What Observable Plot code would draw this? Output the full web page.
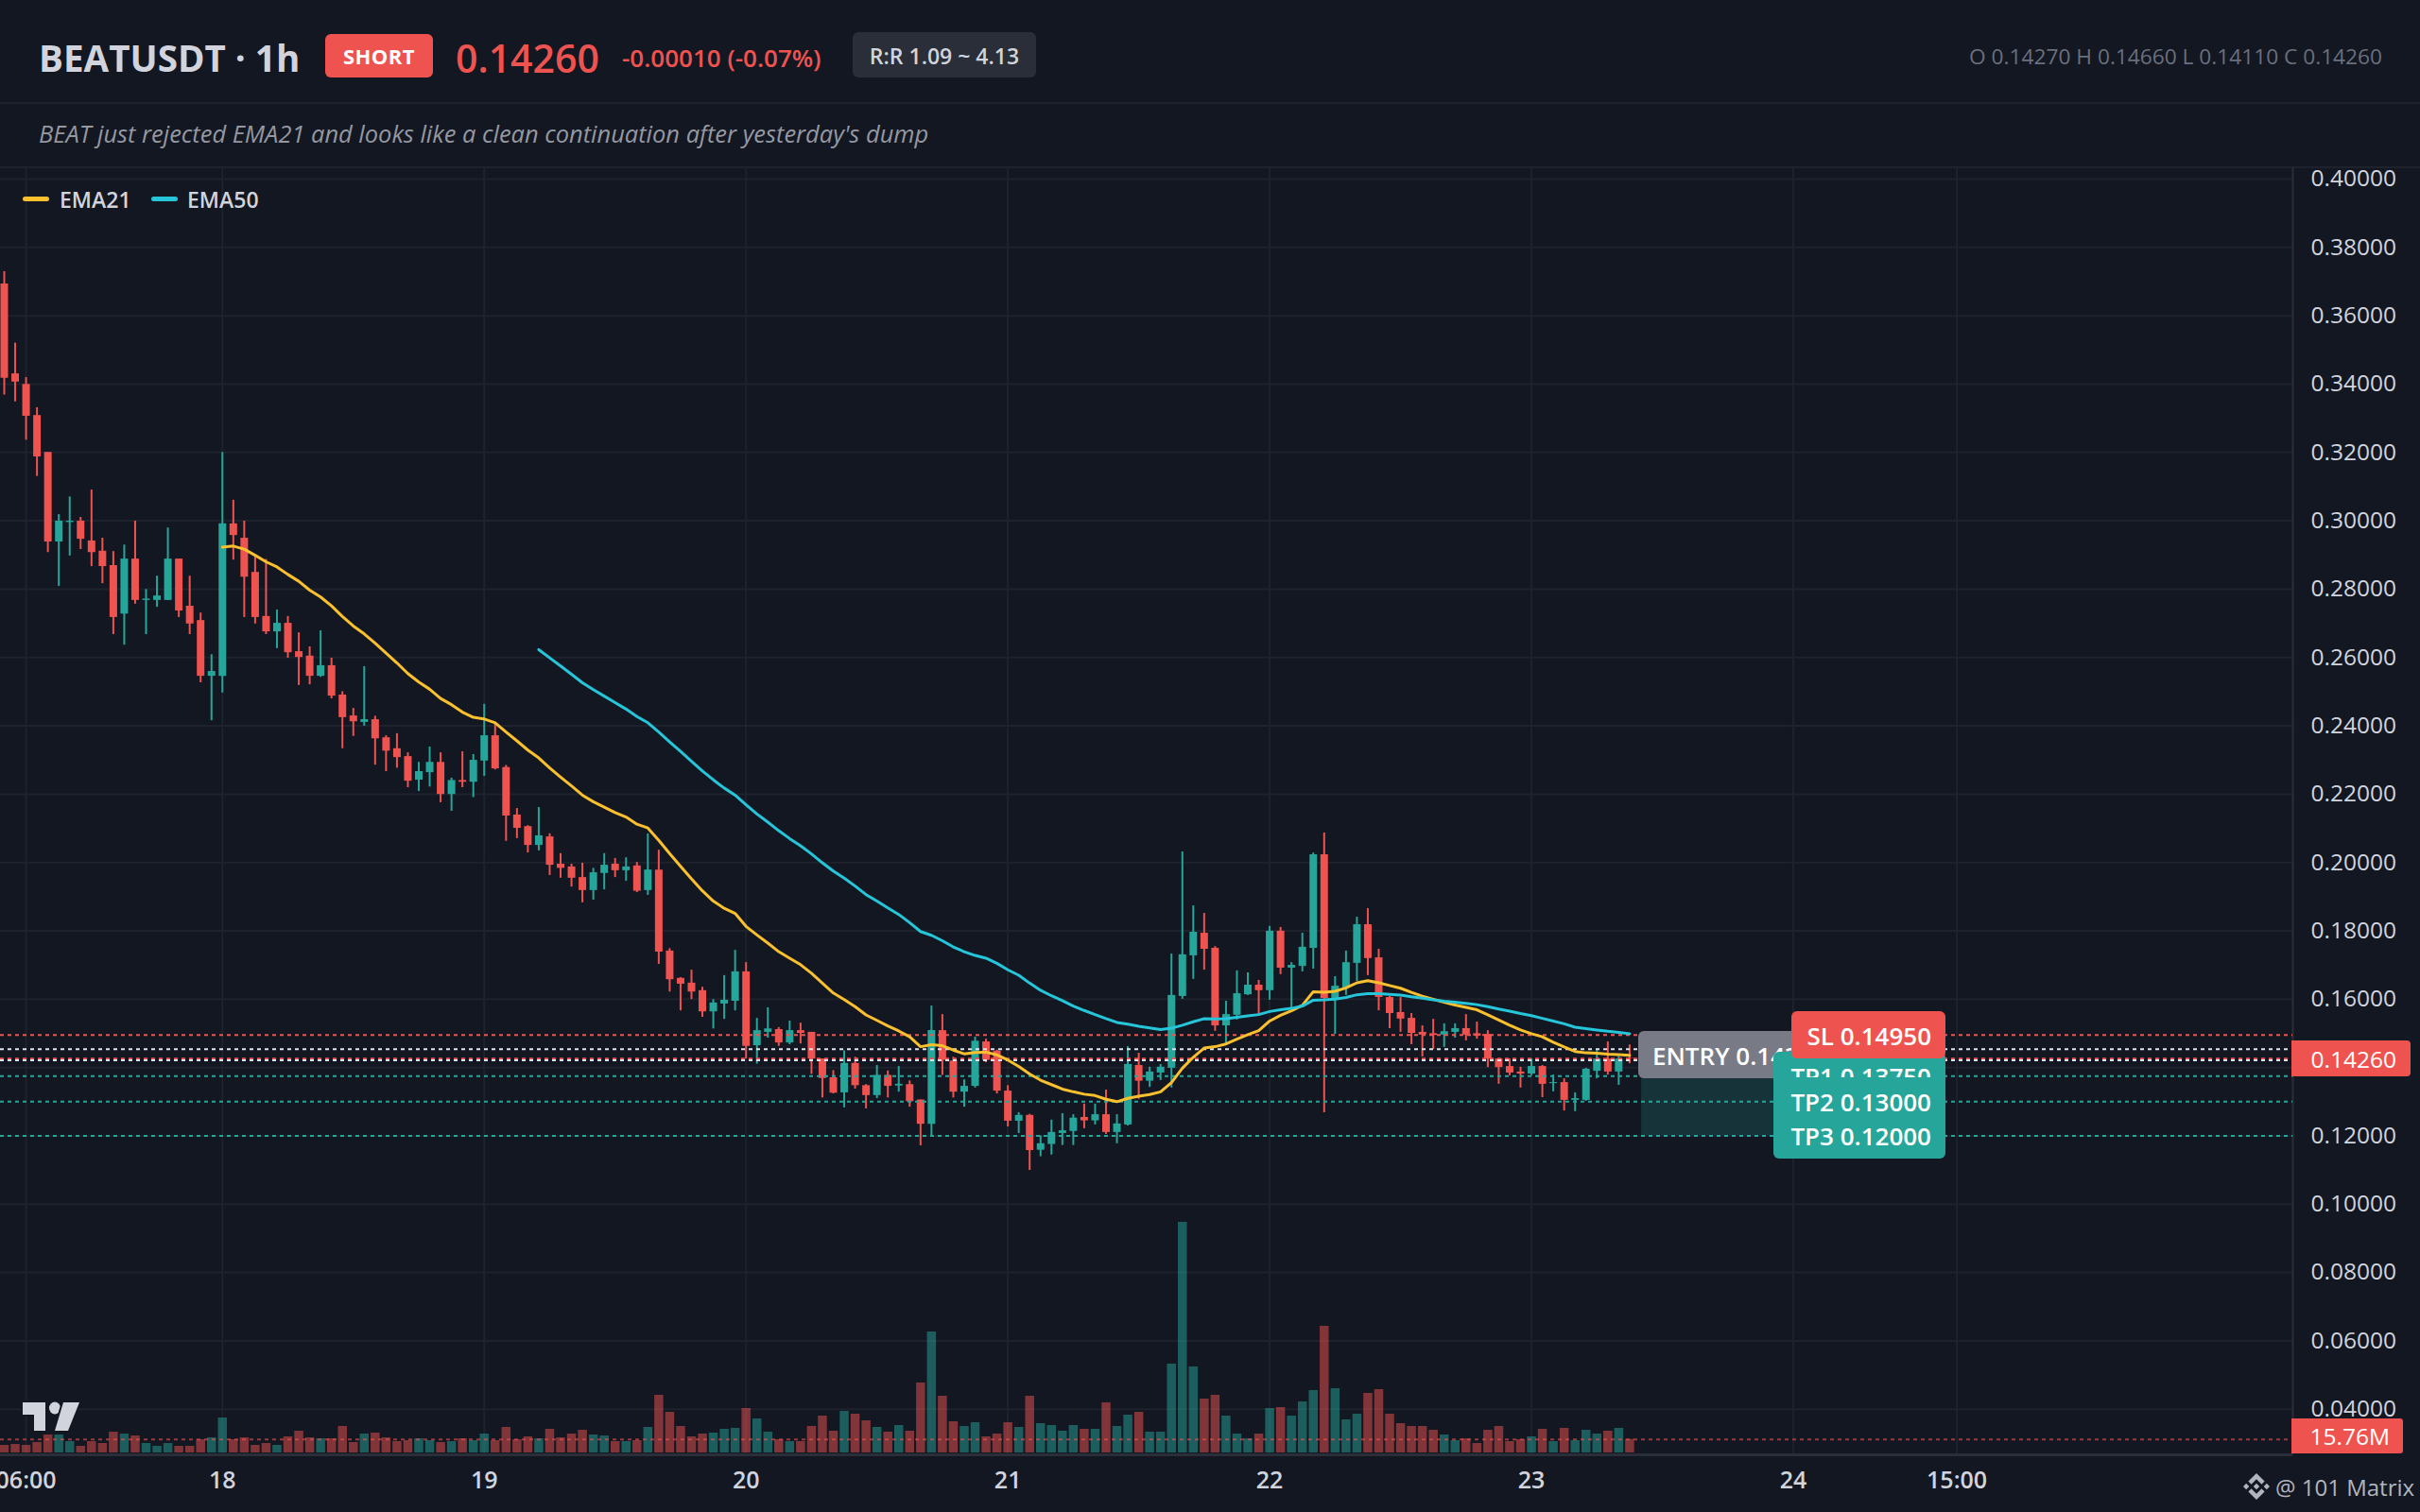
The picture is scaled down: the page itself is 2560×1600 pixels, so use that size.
<!DOCTYPE html>
<html><head><meta charset="utf-8">
<script src="https://cdn.jsdelivr.net/npm/d3@7"></script>
<script src="https://cdn.jsdelivr.net/npm/@observablehq/plot@0.6"></script>
<style>
html,body{margin:0;padding:0;background:#131722;}
#page{position:relative;width:2560px;height:1600px;background:#131722;overflow:hidden;font-family:"Open Sans",sans-serif;color:#d1d4dc;}
#page>*{position:absolute;white-space:nowrap;}
.sep{left:0;width:2560px;height:2px;background:#1e222d;}
.row{line-height:50px;height:50px;}
.badge{height:50px;line-height:53px;border-radius:6px;color:#fff;font-weight:600;font-size:26px;box-sizing:border-box;}
svg.layer{position:absolute;left:0;top:177px;background:transparent;overflow:visible;}
</style></head><body>
<div id="page">
  <div class="sep" style="top:108px"></div>
  <div class="sep" style="top:176px"></div>
  <div id="plots" style="left:0;top:0;width:2560px;height:1600px"></div>
  <div class="row" id="sym" style="left:41px;top:36px;font-size:38.6px;font-weight:700;"></div>
  <div id="side" style="left:344px;top:36px;width:114px;height:46px;line-height:47px;background:#ef5350;border-radius:6px;color:#fff;font-weight:700;font-size:22px;text-align:center;letter-spacing:.5px"></div>
  <div class="row" id="last" style="left:482px;top:36px;font-size:41px;font-weight:600;color:#ef5350"></div>
  <div class="row" id="chg" style="left:658px;top:36px;font-size:26px;font-weight:600;color:#ef5350"></div>
  <div id="rr" style="left:902px;top:34px;width:194px;height:48px;line-height:50px;background:#2a2e39;border-radius:6px;text-align:center;font-size:23px;font-weight:600"></div>
  <div class="row" id="ohlc" style="right:40px;top:35px;font-size:22.7px;color:#6a6f7d"></div>
  <div class="row" id="note" style="left:41px;top:116px;font-size:25.45px;font-style:italic;color:#9598a1"></div>
</div>
<script>
const instrument = "BEATUSDT · 1h";
const sideText = "SHORT";
const lastText = "0.14260";
const changeText = "-0.00010 (-0.07%)";
const rrText = "R:R 1.09 ~ 4.13";
const ohlcText = "O 0.14270 H 0.14660 L 0.14110 C 0.14260";
const noteText = "BEAT just rejected EMA21 and looks like a clean continuation after yesterday's dump";
const legendNames = ["EMA21", "EMA50"];
const brandText = "@ 101 Matrix";
const volumeTagText = "15.76M";

const firstHour = 4; // hours after 00:00 on the 17th
const opens = [.3693,.3430,.3399,.3308,.3200,.2938,.2995,.2999,.2941,.2911,.2869,.2727,.2888,.2767,.2767,.2767,.2888,.2750,.2708,.2545,.2545,.2991,.2949,.2849,.2720,.2675,.2700,.2617,.2604,.2545,.2576,.2490,.2429,.2410,.2418,.2365,.2333,.2310,.2241,.2263,.2293,.2199,.2240,.2235,.2297,.2371,.2278,.2139,.2105,.2050,.2075,.1995,.1987,.1956,.1918,.1968,.1995,.1976,.1990,.1918,.1978,.1741,.1661,.1647,.1625,.1563,.1586,.1594,.1680,.1464,.1503,.1511,.1472,.1508,.1503,.1425,.1370,.1326,.1412,.1347,.1318,.1377,.1346,.1350,.1305,.1234,.1508,.1419,.1328,.1345,.1475,.1448,.1331,.1243,.1260,.1158,.1175,.1207,.1213,.1254,.1244,.1262,.1210,.1232,.1406,.1360,.1384,.1398,.1608,.1727,.1793,.1749,.1522,.1553,.1613,.1641,.1625,.1799,.1691,.1696,.1749,.2023,.1602,.1633,.1705,.1818,.1721,.1605,.1561,.1544,.1503,.1499,.1495,.1503,.1514,.1499,.1497,.1425,.1403,.1387,.1381,.1403,.1353,.1356,.1304,.1304,.1389,.1425,.1387,.1427];
const highs = [.3729,.3520,.3419,.3331,.3200,.3018,.3070,.3010,.3090,.2949,.2910,.2929,.2999,.2799,.2838,.2979,.2888,.2838,.2730,.2608,.3200,.3060,.2999,.2897,.2887,.2739,.2720,.2672,.2631,.2678,.2598,.2500,.2451,.2573,.2428,.2371,.2377,.2321,.2293,.2338,.2321,.2247,.2324,.2316,.2463,.2407,.2284,.2158,.2108,.2161,.2084,.2026,.1995,.1998,.1983,.2026,.2012,.2014,.2000,.2084,.2036,.1748,.1663,.1685,.1635,.1599,.1669,.1743,.1707,.1544,.1575,.1517,.1536,.1530,.1503,.1425,.1391,.1449,.1430,.1350,.1406,.1390,.1403,.1361,.1305,.1580,.1555,.1430,.1364,.1489,.1483,.1451,.1347,.1268,.1263,.1200,.1246,.1265,.1262,.1293,.1293,.1334,.1262,.1461,.1442,.1401,.1409,.1732,.2031,.1873,.1851,.1754,.1594,.1683,.1677,.1655,.1813,.1810,.1707,.1793,.2028,.2086,.1666,.1741,.1840,.1865,.1746,.1608,.1605,.1558,.1522,.1541,.1528,.1528,.1555,.1533,.1508,.1425,.1425,.1401,.1425,.1406,.1378,.1367,.1326,.1398,.1450,.1475,.1433,.1466];
const lows = [.3368,.3348,.3236,.3130,.2907,.2808,.2897,.2916,.2866,.2816,.2667,.2636,.2756,.2667,.2747,.2767,.2717,.2667,.2526,.2415,.2496,.2885,.2717,.2698,.2667,.2626,.2598,.2518,.2520,.2542,.2479,.2333,.2369,.2399,.2285,.2266,.2276,.2219,.2208,.2221,.2175,.2150,.2219,.2190,.2252,.2271,.2062,.2070,.2028,.2034,.1962,.1954,.1928,.1882,.1890,.1920,.1956,.1945,.1912,.1904,.1702,.1621,.1566,.1599,.1547,.1513,.1541,.1566,.1425,.1410,.1486,.1462,.1467,.1469,.1380,.1311,.1323,.1282,.1337,.1279,.1309,.1311,.1328,.1284,.1171,.1199,.1377,.1311,.1284,.1340,.1414,.1323,.1226,.1207,.1099,.1139,.1144,.1172,.1172,.1221,.1232,.1204,.1177,.1229,.1307,.1342,.1362,.1340,.1600,.1658,.1685,.1506,.1464,.1539,.1611,.1555,.1597,.1672,.1575,.1680,.1688,.1268,.1497,.1611,.1652,.1669,.1566,.1514,.1503,.1467,.1431,.1453,.1459,.1486,.1478,.1483,.1400,.1351,.1376,.1340,.1376,.1312,.1329,.1273,.1271,.1301,.1367,.1378,.1348,.1411];
const closes = [.3417,.3406,.3306,.3187,.2938,.2999,.2999,.2946,.2907,.2866,.2717,.2888,.2767,.2771,.2780,.2888,.2736,.2698,.2545,.2559,.2991,.2957,.2835,.2717,.2675,.2700,.2614,.2600,.2545,.2576,.2487,.2424,.2412,.2418,.2362,.2326,.2307,.2238,.2266,.2293,.2199,.2240,.2235,.2299,.2371,.2274,.2136,.2100,.2050,.2078,.1992,.1983,.1954,.1918,.1970,.1992,.1976,.1987,.1916,.1978,.1738,.1657,.1644,.1621,.1563,.1589,.1597,.1680,.1462,.1508,.1513,.1472,.1508,.1500,.1425,.1368,.1325,.1412,.1347,.1318,.1377,.1345,.1351,.1300,.1234,.1508,.1421,.1328,.1345,.1477,.1421,.1331,.1243,.1260,.1157,.1177,.1210,.1215,.1252,.1244,.1262,.1210,.1235,.1409,.1360,.1387,.1401,.1611,.1730,.1796,.1746,.1522,.1555,.1616,.1641,.1625,.1799,.1691,.1699,.1752,.2023,.1602,.1638,.1707,.1818,.1719,.1605,.1558,.1542,.1500,.1495,.1494,.1505,.1514,.1495,.1492,.1425,.1400,.1384,.1381,.1403,.1351,.1356,.1304,.1309,.1395,.1425,.1387,.1425,.1426];
const volumes = [8.8,9.9,8.8,12.1,20.9,20.9,13.2,7.7,13.2,11,24.2,22,19.8,11,7.7,11,7.7,7.7,15.4,17.6,40.7,15.4,17.6,8.8,11,8.8,18.7,25.3,17.6,16.5,16.5,30.8,12.1,22,23.1,17.6,13.2,14.3,16.5,14.3,12.1,13.2,16.5,14.3,22,14.3,29.7,15.4,18.7,16.5,27.5,17.6,22,26.4,20.9,19.8,13.2,13.2,14.3,29.7,67.1,47.3,30.8,18.7,22,23.1,27.5,28.6,51.7,39.6,24.2,15.4,13.2,13.2,30.8,42.9,25.3,48.4,45.1,37.4,29.7,24.2,31.9,25.3,81.4,140.7,66,36.3,30.8,35.2,18.7,22,35.2,29.7,66,34.1,31.9,25.3,31.9,27.5,27.5,58.3,30.8,44,47.3,24.2,24.2,103.4,268.3,100.1,62.7,67.1,42.9,22,16.5,22,51.7,52.8,42.9,59.4,72.6,147.3,74.8,38.5,45.1,69.3,73.7,45.1,34.1,30.8,30.8,26.4,20.9,14.3,16.5,11,26.4,30.8,13.2,15.4,18.7,27.5,13.2,28.6,14.3,26.4,22,25.3,28.6,15.76];
const ema21Start = 20;
const ema21 = [.2923,.2926,.2917,.2899,.2880,.2865,.2843,.2823,.2797,.2777,.2751,.2720,.2692,.2669,.2642,.2613,.2584,.2553,.2528,.2507,.2480,.2462,.2440,.2425,.2420,.2409,.2382,.2356,.2329,.2306,.2277,.2250,.2224,.2197,.2178,.2162,.2146,.2133,.2112,.2101,.2065,.2026,.1989,.1952,.1917,.1887,.1866,.1851,.1813,.1788,.1764,.1739,.1720,.1701,.1676,.1647,.1618,.1599,.1578,.1554,.1538,.1522,.1507,.1490,.1461,.1467,.1464,.1451,.1440,.1444,.1445,.1437,.1422,.1403,.1381,.1363,.1350,.1337,.1329,.1322,.1318,.1307,.1300,.1310,.1316,.1321,.1329,.1356,.1398,.1430,.1457,.1461,.1469,.1483,.1496,.1508,.1536,.1553,.1566,.1582,.1622,.1620,.1623,.1633,.1648,.1654,.1648,.1640,.1632,.1620,.1609,.1600,.1591,.1583,.1576,.1569,.1554,.1539,.1524,.1510,.1499,.1490,.1474,.1460,.1447,.1443,.1442,.1439,.1438,.1436];
const ema50Start = 49;
const ema50 = [.2623,.2599,.2575,.2551,.2526,.2506,.2487,.2468,.2449,.2427,.2409,.2382,.2353,.2325,.2296,.2268,.2242,.2218,.2197,.2169,.2142,.2118,.2093,.2070,.2049,.2025,.1999,.1975,.1954,.1931,.1906,.1887,.1867,.1848,.1824,.1798,.1787,.1771,.1753,.1739,.1728,.1720,.1705,.1686,.1670,.1647,.1626,.1610,.1596,.1580,.1567,.1555,.1543,.1532,.1527,.1521,.1516,.1511,.1515,.1524,.1534,.1543,.1542,.1543,.1547,.1551,.1555,.1564,.1569,.1573,.1580,.1597,.1598,.1600,.1605,.1613,.1616,.1616,.1614,.1612,.1607,.1603,.1598,.1594,.1591,.1588,.1584,.1578,.1571,.1565,.1558,.1552,.1544,.1536,.1528,.1518,.1514,.1510,.1506,.1503,.1499];

const priceTicks = [.40,.38,.36,.34,.32,.30,.28,.26,.24,.22,.20,.18,.16,.14,.12,.10,.08,.06,.04];
const hourTicks = [6,24,48,72,96,120,144,168,183];
const hourLabels = ["06:00","18","19","20","21","22","23","24","15:00"];
const lastPrice = 0.1426;
const slPrice = 0.1495;
const entryPrices = [0.1454, 0.1421];
const tpPrices = [0.1375, 0.13, 0.12];
const tpTexts = ["TP1 0.13750","TP2 0.13000","TP3 0.12000"];
const slText = "SL 0.14950";
const entryText = "ENTRY 0.14375";
const zoneHours = [154.1, 170];
const zonePrices = [0.12, 0.1421];

const UP="#26a69a", DOWN="#ef5350", GRID="#1e222d", AXIS="#2a2e39", TXT="#d1d4dc", BG="#131722";
const W=2560, H=1423;
const xDomain=[3.654,213.8];
const yDomain=[.02666,.40332];

const candles = opens.map((o,i)=>({hour:firstHour+i,open:o,high:highs[i],low:lows[i],close:closes[i],vol:volumes[i],color:closes[i]>=o?UP:DOWN}));
const line21 = ema21.map((v,i)=>({hour:firstHour+ema21Start+i,v}));
const line50 = ema50.map((v,i)=>({hour:firstHour+ema50Start+i,v}));
const common = {width:W,height:H,marginLeft:0,marginRight:135,marginTop:0,style:{background:"transparent",overflow:"visible"}};
const xOpt = {domain:xDomain,axis:null};

const base = Plot.plot({...common,marginBottom:61,x:{domain:xDomain},y:{domain:yDomain},marks:[
  Plot.gridY(priceTicks,{stroke:GRID,strokeOpacity:1,strokeWidth:2}),
  Plot.gridX(hourTicks,{stroke:GRID,strokeOpacity:1,strokeWidth:2}),
  Plot.ruleY([yDomain[0]],{stroke:AXIS,strokeWidth:3}),
  Plot.ruleX([xDomain[1]],{stroke:AXIS,strokeWidth:2}),
  Plot.axisY(priceTicks,{anchor:"right",tickSize:0,tickPadding:19,label:null,fontSize:24.5,color:TXT,fill:TXT,tickFormat:d=>d.toFixed(5),fontFamily:"Open Sans"}),
  Plot.axisX(hourTicks,{anchor:"bottom",tickSize:0,tickPadding:18,label:null,fontSize:25,fill:TXT,fontWeight:600,tickFormat:h=>hourLabels[hourTicks.indexOf(h)],fontFamily:"Open Sans"})
]});
const vol = Plot.plot({...common,marginBottom:63,x:xOpt,y:{domain:[0,1496],axis:null},color:{type:"identity"},marks:[
  Plot.ruleX(candles,{x:"hour",y1:0,y2:"vol",stroke:"color",strokeWidth:9.5,strokeOpacity:.5}),
  Plot.ruleY([volumes[volumes.length-1]],{stroke:DOWN,strokeOpacity:.6,strokeWidth:2,strokeDasharray:"4,4"})
]});
const main = Plot.plot({...common,marginBottom:61,x:xOpt,y:{domain:yDomain,axis:null},color:{type:"identity"},marks:[
  Plot.rect([0],{x1:zoneHours[0],x2:zoneHours[1],y1:zonePrices[0],y2:zonePrices[1],fill:UP,fillOpacity:.2}),
  Plot.ruleX(candles,{x:"hour",y1:"low",y2:"high",stroke:"color",strokeWidth:2}),
  Plot.ruleX(candles,{x:"hour",y1:"open",y2:"close",stroke:"color",strokeWidth:8}),
  Plot.ruleY([slPrice,lastPrice],{stroke:DOWN,strokeWidth:2,strokeDasharray:"4,4"}),
  Plot.ruleY(entryPrices,{stroke:"#e0e3eb",strokeWidth:2,strokeDasharray:"4,4"}),
  Plot.ruleY(tpPrices,{stroke:UP,strokeWidth:2,strokeDasharray:"4,4"}),
  Plot.line(line21,{x:"hour",y:"v",stroke:"#fbc02d",strokeWidth:3}),
  Plot.line(line50,{x:"hour",y:"v",stroke:"#26c6da",strokeWidth:3})
]});
const plots=document.getElementById("plots");
for(const p of [base,vol,main]){p.setAttribute("class",(p.getAttribute("class")||"")+" layer");plots.appendChild(p);}

document.getElementById("sym").textContent=instrument;
document.getElementById("side").textContent=sideText;
document.getElementById("last").textContent=lastText;
document.getElementById("chg").textContent=changeText;
document.getElementById("rr").textContent=rrText;
document.getElementById("ohlc").textContent=ohlcText;
document.getElementById("note").textContent=noteText;

const page=document.getElementById("page");
const py=p=>main.scale("y").apply(p)+177;
function add(html,css){const e=document.createElement("div");e.innerHTML=html;e.style.cssText=css;page.appendChild(e);return e;}
function badge(text,price,left,width,color,align){
  const e=add("",`left:${left}px;width:${width}px;top:${py(price)-25}px;background:${color};text-align:${align};padding:0 15px;`);
  e.className="badge";e.textContent=text;return e;
}
badge(entryText,(entryPrices[0]+entryPrices[1])/2,1733,300,"#787b86","left");
tpPrices.forEach((p,i)=>badge(tpTexts[i],p,1876,182,UP,"right"));
badge(slText,slPrice,1895,163,DOWN,"right");

// price and volume tags on the right axis
add(lastText,`left:2424px;width:126px;top:${py(lastPrice)-19}px;height:38px;line-height:39px;background:${DOWN};color:#fff;font-size:24.5px;font-weight:500;text-align:right;padding-right:15px;box-sizing:border-box;border-radius:0 4px 4px 0`);
add(volumeTagText,`left:2424px;width:118px;top:1501px;height:37px;line-height:38px;background:${DOWN};color:#fff;font-size:24.5px;font-weight:500;text-align:right;padding-right:14px;box-sizing:border-box;border-radius:0 3px 3px 0`);

// legend
[[24,"#fbc02d",63,legendNames[0]],[160,"#26c6da",198,legendNames[1]]].forEach(([sx,c,tx,t])=>{
  add("",`left:${sx}px;top:207.5px;width:28px;height:5px;border-radius:2.5px;background:${c}`);
  add(t,`left:${tx}px;top:195px;line-height:32px;font-size:23px;font-weight:600;color:${TXT}`);
});

// TradingView mark
add(`<svg width="70" height="40" viewBox="0 0 70 40" style="display:block"><g fill="${TXT}" stroke="${BG}" stroke-width="4" paint-order="stroke"><path d="M5 5H29V35H17V18H5Z"/><ellipse cx="39" cy="11" rx="6" ry="6.5"/><path d="M48 5H65L53 35H39Z"/></g></svg>`,"left:19px;top:1479px;width:70px;height:40px");

// brand
add(`<svg width="28" height="28" viewBox="0 0 126.61 126.61" style="display:block"><g fill="#b2b5be"><path d="M38.73 53.2l24.59-24.58 24.6 24.6 14.3-14.31L63.32 0 24.43 38.9zM0 63.31l14.3-14.31 14.31 14.31-14.31 14.3zM38.73 73.41l24.59 24.59 24.6-24.6 14.31 14.29-38.9 38.91-38.91-38.88-.02-.02zM98.01 63.31l14.3-14.31 14.3 14.3-14.3 14.31zM77.83 63.3L63.32 48.78 48.81 63.28l14.51 14.5z"/></g></svg>`,"left:2373px;top:1559px;width:28px;height:28px");
add(brandText,`left:2407px;top:1556px;line-height:36px;font-size:24px;color:#b2b5be;`);
</script>
</body></html>
